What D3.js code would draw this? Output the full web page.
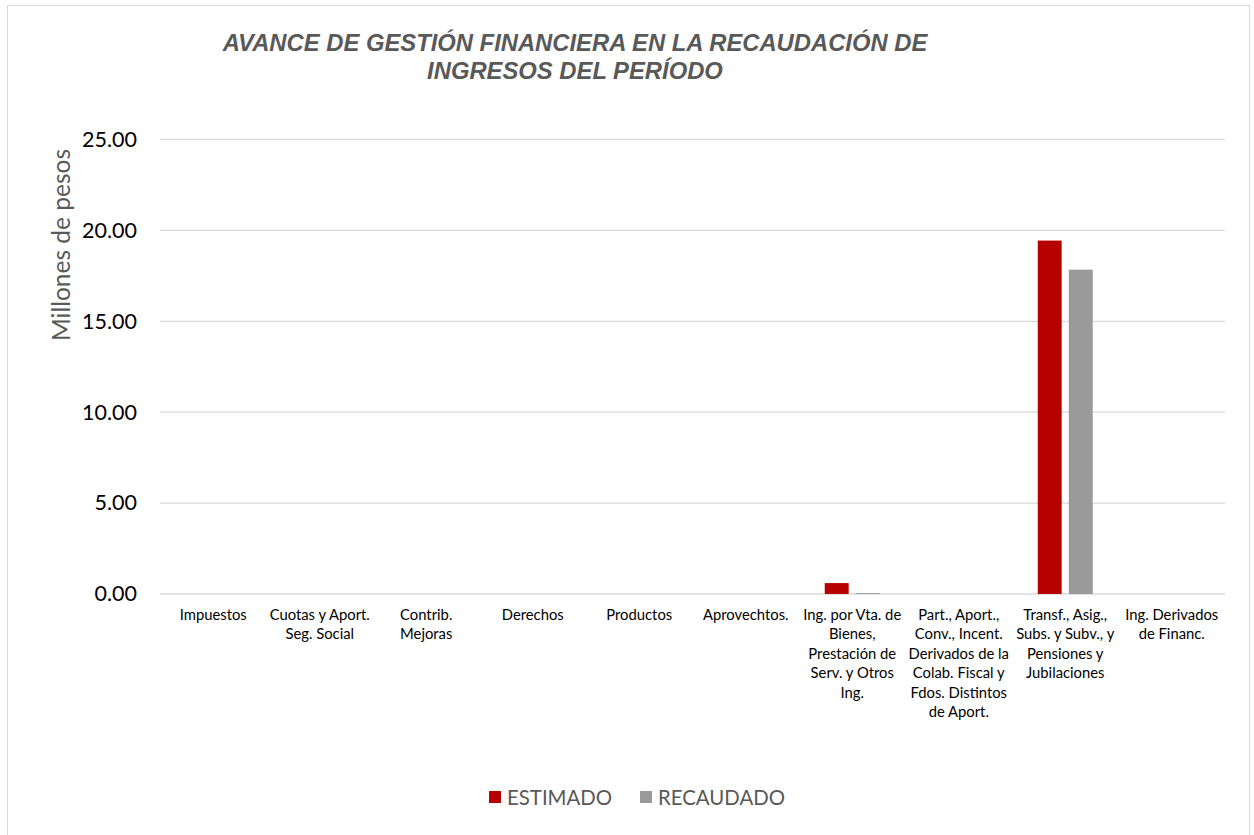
<!DOCTYPE html>
<html>
<head>
<meta charset="utf-8">
<script src="https://cdn.jsdelivr.net/npm/d3@7"></script>
<style>
  body { margin: 0; background: #fff; }
  svg { display: block; }
</style>
</head>
<body>
<svg width="1254" height="835"></svg>
<script>
// Data
const categories = [
  "Impuestos",
  "Cuotas y Aport.\nSeg. Social",
  "Contrib.\nMejoras",
  "Derechos",
  "Productos",
  "Aprovechtos.",
  "Ing. por Vta. de\nBienes,\nPrestación de\nServ. y Otros\nIng.",
  "Part., Aport.,\nConv., Incent.\nDerivados de la\nColab. Fiscal y\nFdos. Distintos\nde Aport.",
  "Transf., Asig.,\nSubs. y Subv., y\nPensiones y\nJubilaciones",
  "Ing. Derivados\nde Financ."
];
const series = ["ESTIMADO", "RECAUDADO"];
const estimado = [0, 0, 0, 0, 0, 0, 0.60, 0, 19.44, 0];
const recaudado = [0, 0, 0, 0, 0, 0, 0.05, 0, 17.84, 0];
const yTicks = [0, 5, 10, 15, 20, 25];
const colors = ["#b70000", "#9a9a9a"];

// The svg
let svg = d3.select("svg"),
    width = +svg.attr("width"),
    height = +svg.attr("height");

// chart frame
svg.append("rect")
    .attr("x", 7.5).attr("y", 5.5)
    .attr("width", 1242).attr("height", 840)
    .attr("fill", "#fff")
    .attr("stroke", "#d9d9d9");

const margin = {left: 160, right: 1225, top: 139.5, bottom: 594};

let x = d3.scaleBand()
    .domain(categories)
    .range([margin.left, margin.right]);
let x1 = d3.scaleBand()
    .domain(series)
    .range([0, 55])
    .paddingInner(0.23);
let y = d3.scaleLinear()
    .domain([0, 25])
    .range([margin.bottom, margin.top]);

// gridlines
svg.append("g")
    .selectAll("line")
    .data(yTicks)
    .join("line")
    .attr("x1", margin.left).attr("x2", margin.right)
    .attr("y1", d => y(d)).attr("y2", d => y(d))
    .attr("stroke", "#d9d9d9")
    .attr("stroke-width", 1.3);

// y axis labels
let yAxis = svg.append("g")
    .attr("transform", `translate(${margin.left},0)`)
    .call(d3.axisLeft(y).tickValues(yTicks).tickFormat(d3.format(".2f")).tickSize(0).tickPadding(23));
yAxis.select(".domain").remove();
yAxis.selectAll("text")
    .attr("font-family", "Lato, 'Open Sans', sans-serif")
    .attr("font-size", 21.5)
    .attr("fill", "#000");

svg.append("text")
    .attr("transform", "translate(70,245) rotate(-90)")
    .attr("text-anchor", "middle")
    .attr("font-family", "Lato, 'Open Sans', sans-serif")
    .attr("font-size", 24.5)
    .attr("fill", "#595959")
    .text("Millones de pesos");

// bars
let rows = categories.map((c, i) => ({cat: c, vals: [estimado[i], recaudado[i]]}));
let groups = svg.append("g")
    .selectAll("g")
    .data(rows)
    .join("g")
    .attr("transform", d => `translate(${x(d.cat) + (x.bandwidth() - 55) / 2},0)`);
groups.selectAll("rect")
    .data(d => d.vals.map((v, j) => ({key: series[j], v: v, j: j})))
    .join("rect")
    .filter(d => d.v > 0)
    .attr("x", d => x1(d.key))
    .attr("width", x1.bandwidth())
    .attr("y", d => y(d.v))
    .attr("height", d => y(0) - y(d.v))
    .attr("fill", d => colors[d.j]);

// category labels
let xl = svg.append("g")
    .selectAll("text")
    .data(categories)
    .join("text")
    .attr("x", d => x(d) + x.bandwidth() / 2)
    .attr("y", 620)
    .attr("text-anchor", "middle")
    .attr("font-family", "Lato, 'Open Sans', sans-serif")
    .attr("font-size", 14.8)
    .attr("fill", "#000");
xl.selectAll("tspan")
    .data(d => d.split("\n"))
    .join("tspan")
    .attr("x", function () { return this.parentNode.getAttribute("x"); })
    .attr("dy", (d, i) => i === 0 ? 0 : 19.4)
    .text(d => d);

// title
let title = svg.append("text")
    .attr("text-anchor", "middle")
    .attr("font-family", "'Liberation Sans', Arial, sans-serif")
    .attr("font-size", 23.8)
    .attr("font-weight", "bold")
    .attr("font-style", "italic")
    .attr("fill", "#595959");
title.append("tspan").attr("x", 575).attr("y", 51).text("AVANCE DE GESTIÓN FINANCIERA EN LA RECAUDACIÓN DE");
title.append("tspan").attr("x", 575).attr("y", 78.5).text("INGRESOS DEL PERÍODO");

// Legend
let legendX = [489, 640];
let lg = svg.append("g")
    .selectAll("g")
    .data(series)
    .join("g")
    .attr("transform", (d, i) => `translate(${legendX[i]},791)`);
lg.append("rect")
    .attr("width", 12).attr("height", 12)
    .attr("fill", (d, i) => colors[i]);
lg.append("text")
    .attr("x", 18).attr("y", 14)
    .attr("font-family", "Lato, 'Open Sans', sans-serif")
    .attr("font-size", 20.4)
    .attr("fill", "#595959")
    .text(d => d);
</script>
</body>
</html>
